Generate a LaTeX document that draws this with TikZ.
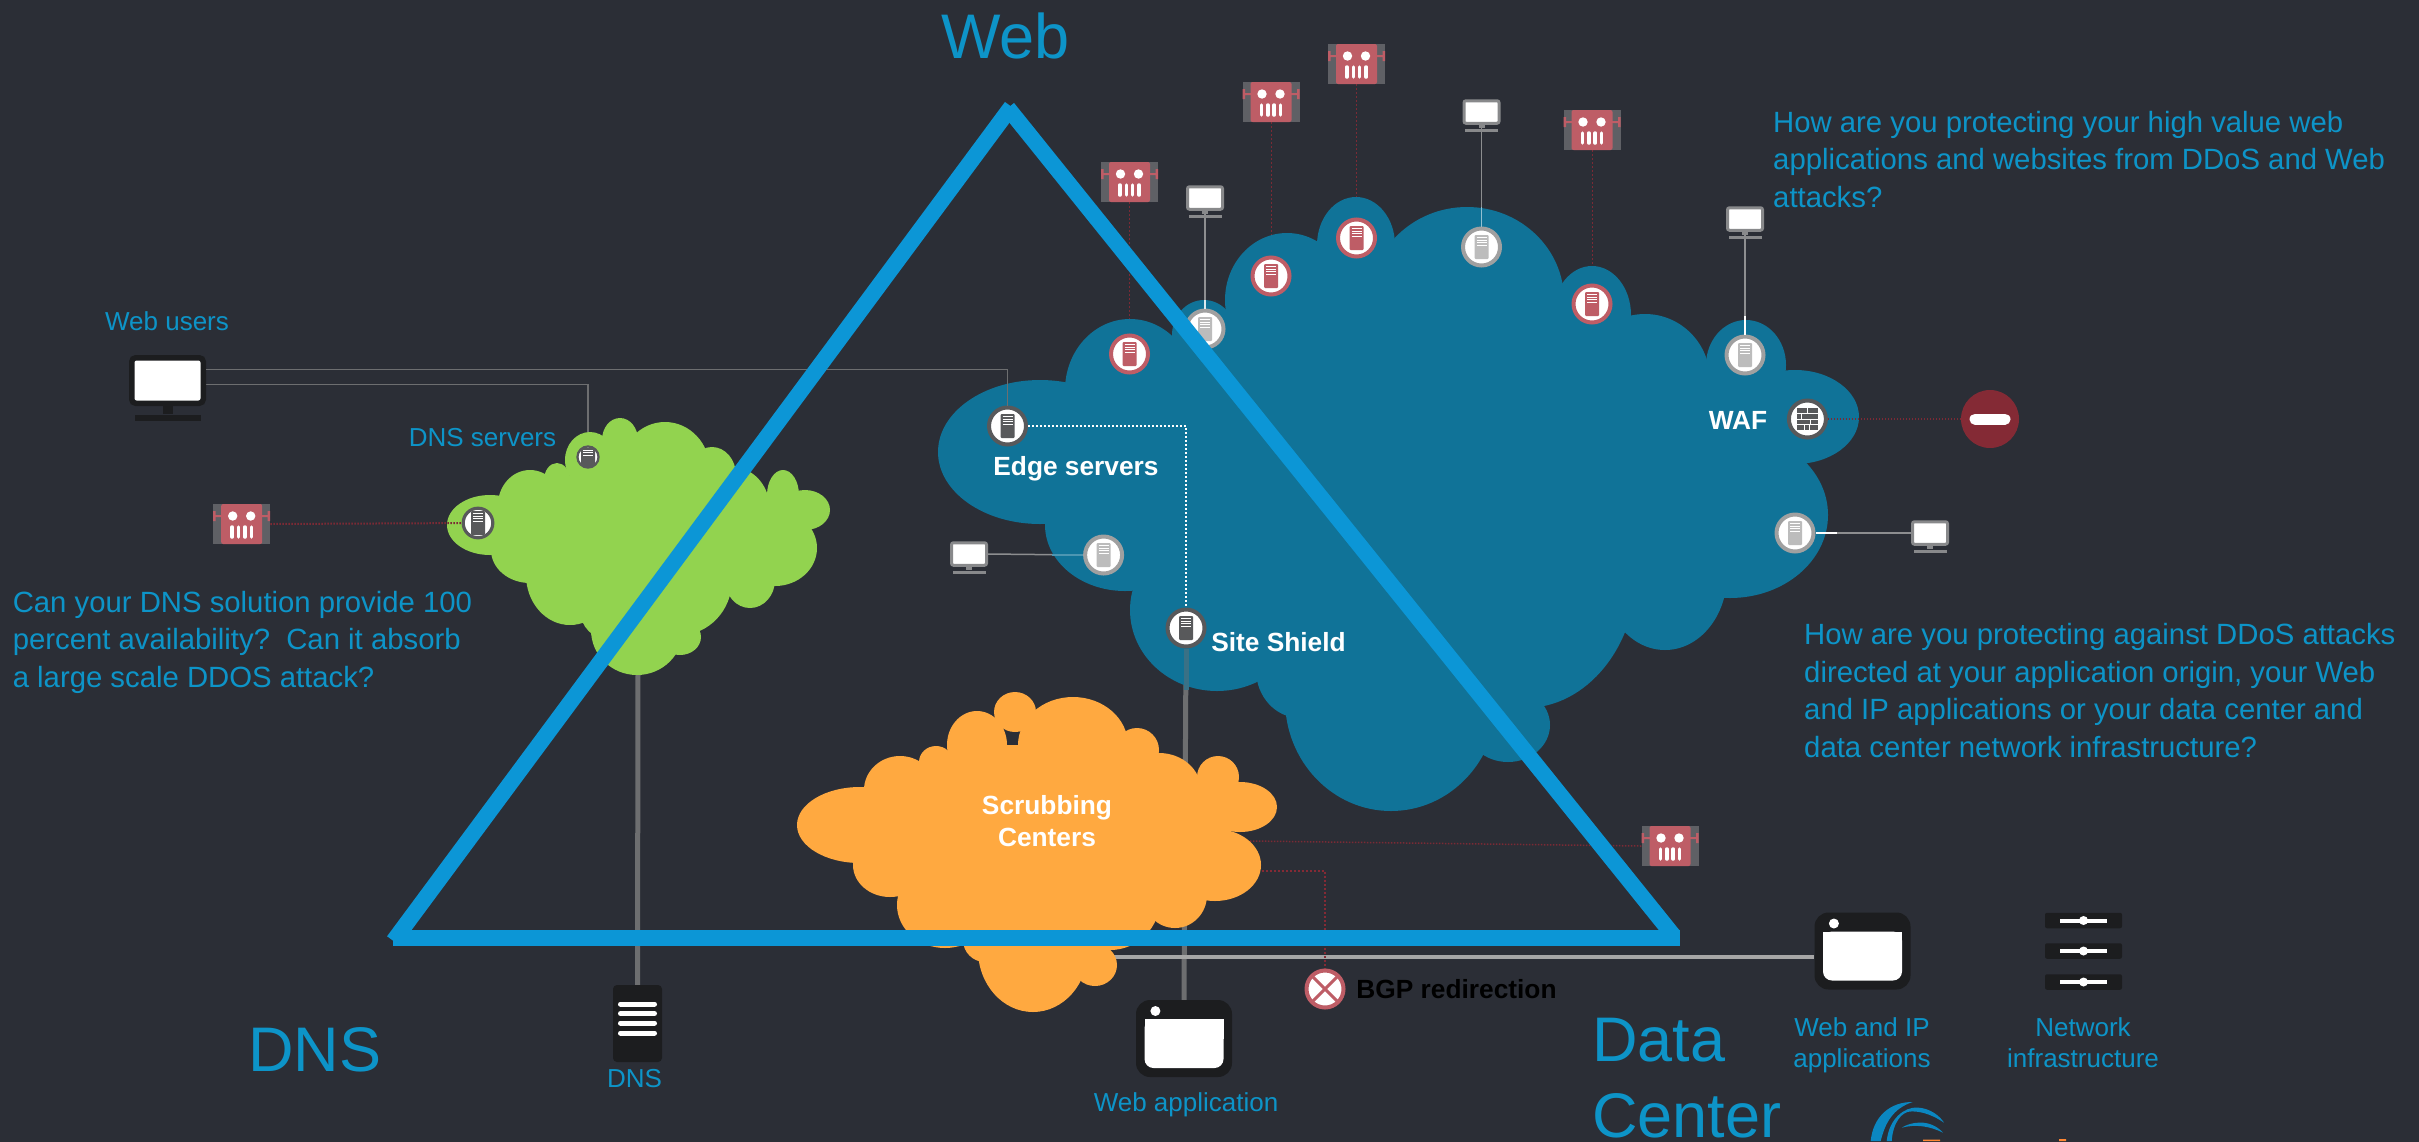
\documentclass[tikz,border=0pt]{standalone}
\usepackage{fontspec}
\setmainfont{Liberation Sans}
\usetikzlibrary{positioning}
\definecolor{backdark}{HTML}{2B2E36}
\definecolor{triblue}{HTML}{0C96D6}
\definecolor{labelblue}{HTML}{0D94C8}
\definecolor{cloudblue}{HTML}{107398}
\definecolor{cloudgreen}{HTML}{92D34F}
\definecolor{cloudorange}{HTML}{FFA940}
\definecolor{iconblack}{HTML}{1C1D1F}
\definecolor{botred}{HTML}{BE5D66}
\definecolor{botgrey}{HTML}{5F6065}
\definecolor{stopred}{HTML}{842A35}
\definecolor{ringdark}{HTML}{58595B}
\definecolor{ringgrey}{HTML}{A0A0A0}
\definecolor{rackgrey}{HTML}{BCBCBC}
\definecolor{wiregrey}{HTML}{6D6E70}
\definecolor{wirepale}{HTML}{8D8E90}
\definecolor{wirered}{HTML}{7B2A35}
\definecolor{framegrey}{HTML}{88898B}
\pgfdeclarelayer{backdrop}
\pgfdeclarelayer{links}
\pgfdeclarelayer{clouds}
\pgfdeclarelayer{front}
\pgfsetlayers{backdrop,links,clouds,main,front}
\begin{document}
\begin{tikzpicture}[x=1pt,y=-1pt]
    \tikzset{server/.style n args={3}{shape=circle,draw=#1,fill=white,line width=#3*4pt,minimum size=#3*37pt,inner sep=0pt,
        path picture={\begin{scope}[shift={(path picture bounding box.center)},scale=#3]
            \fill[#2,rounded corners=1pt] (-7pt,-12pt) rectangle (7pt,12pt);
            \foreach \s in {9.5,7,4.5,2} \draw[white,line width=#3*1pt] (-5pt,\s pt) -- (5pt,\s pt);
        \end{scope}}}}
    \tikzset{redserver/.style={server={botred}{botred}{1}}}
    \tikzset{greyserver/.style={server={ringgrey}{rackgrey}{1}}}
    \tikzset{darkserver/.style={server={ringdark}{ringdark}{1}}}
    \tikzset{wallbadge/.style={shape=circle,draw=ringdark,fill=white,line width=4pt,minimum size=37pt,inner sep=0pt,
        path picture={\begin{scope}[shift={(path picture bounding box.center)}]
            \fill[ringdark] (-10.5pt,-11pt) rectangle (10.5pt,11pt);
            \foreach \s in {5.5,0,-5.5} \draw[white,line width=1pt] (-10.5pt,\s pt) -- (10.5pt,\s pt);
            \foreach \a/\b in {0/5.5,-6/0,3/-5.5,-3/-11,2/-11} \draw[white,line width=1pt] (\a pt,\b pt) -- (\a pt,\b pt+5.5pt);
        \end{scope}}}}
    \tikzset{robot/.style={shape=rectangle,fill=botgrey,minimum width=57pt,minimum height=40pt,inner sep=0pt,
        path picture={\begin{scope}[shift={(path picture bounding box.center)}]
            \fill[botred,rounded corners=2pt] (-20.5pt,-20pt) rectangle (20.5pt,20pt);
            \fill[botred] (-28.5pt,3pt) rectangle (-26pt,13pt) (-26pt,7pt) rectangle (-20pt,9pt);
            \fill[botred] (28.5pt,3pt) rectangle (26pt,13pt) (26pt,7pt) rectangle (20pt,9pt);
            \fill[white] (-9pt,8pt) circle (4.7pt) (9pt,8pt) circle (4.7pt);
            \foreach \s in {-9.6,-3.2,3.2,9.6} \draw[white,line width=3.5pt,line cap=round] (\s pt,-3pt) -- (\s pt,-13pt);
        \end{scope}}}}
    \tikzset{monitor/.style={shape=rectangle,rounded corners=2pt,draw=framegrey,fill=white,line width=3pt,minimum width=35pt,minimum height=22.5pt,inner sep=0pt}}
    \tikzset{stem/.style={shape=rectangle,fill=framegrey,minimum width=6pt,minimum height=3.5pt,inner sep=0pt}}
    \tikzset{foot/.style={shape=rectangle,fill=framegrey,minimum width=33pt,minimum height=3.5pt,inner sep=0pt}}
    \tikzset{appwindow/.style={shape=rectangle,rounded corners=14pt,fill=iconblack,minimum width=96pt,minimum height=77pt,inner sep=0pt,
        path picture={\begin{scope}[shift={(path picture bounding box.center)}]
            \fill[white] (-28.6pt,27.5pt) circle (5pt);
            \fill[white,rounded corners=9pt] (-39.5pt,19.5pt) rectangle (39.5pt,-29.5pt);
            \fill[white,sharp corners] (-39.5pt,19.5pt) rectangle (39.5pt,0pt);
        \end{scope}}}}
    \tikzset{dnsbox/.style={shape=rectangle,rounded corners=4pt,fill=iconblack,minimum width=49pt,minimum height=77pt,inner sep=0pt,
        path picture={\begin{scope}[shift={(path picture bounding box.center)}]
            \foreach \s in {19.5,10,0.5,-9.5} \draw[white,line width=5pt,line cap=round] (-17pt,\s pt) -- (17pt,\s pt);
        \end{scope}}}}
    \tikzset{slider/.style={shape=rectangle,rounded corners=2pt,fill=iconblack,minimum width=77pt,minimum height=15.5pt,inner sep=0pt,
        path picture={\begin{scope}[shift={(path picture bounding box.center)}]
            \draw[white,line width=4pt] (-23.5pt,0pt) -- (23.5pt,0pt);
            \fill[white] (0pt,0pt) circle (4.5pt);
        \end{scope}}}}
    \tikzset{stopsign/.style={shape=circle,fill=stopred,minimum size=58pt,inner sep=0pt,
        path picture={\begin{scope}[shift={(path picture bounding box.center)}]
            \draw[white,line width=11pt,line cap=round] (-15pt,0pt) -- (15pt,0pt);
        \end{scope}}}}
    \tikzset{crossed/.style={shape=circle,draw=botred,fill=white,line width=4pt,minimum size=37pt,inner sep=0pt,
        path picture={\begin{scope}[shift={(path picture bounding box.center)}]
            \draw[botred,line width=3pt] (-15pt,-15pt) -- (15pt,15pt) (-15pt,15pt) -- (15pt,-15pt);
        \end{scope}}}}
    \tikzset{bigtext/.style={text=labelblue,font=\fontsize{63}{76}\selectfont,align=left,anchor=base west,inner sep=0pt}}
    \tikzset{asktext/.style={text=labelblue,font=\fontsize{29.3}{37.5}\selectfont,align=left,anchor=base west,inner sep=0pt}}
    \tikzset{smalltext/.style={text=labelblue,font=\fontsize{26}{31}\selectfont,align=center,anchor=base,inner sep=0pt}}
    \tikzset{boldtext/.style={text=white,font=\fontsize{26.3}{32}\selectfont\bfseries,align=center,anchor=base,inner sep=0pt}}
    \tikzset{wire/.style={draw=wiregrey,line width=1.5pt}}
    \tikzset{trunk/.style={draw=wiregrey,line width=5pt}}
    \tikzset{userwire/.style={draw=wirepale,line width=1.5pt}}
    \tikzset{botwire/.style={draw=wirered,line width=1pt,dash pattern=on 2pt off 2pt}}
    \tikzset{attackwire/.style={draw=wirered,line width=2pt,dash pattern=on 1.5pt off 1.5pt}}
    \tikzset{triside/.style={draw=triblue,line width=16pt}}

    \useasboundingbox (0,0) rectangle (2419,1141);
    \begin{pgfonlayer}{backdrop}
        \fill[backdark] (-5,-5) rectangle (2424,1146);
    \end{pgfonlayer}

    \begin{pgfonlayer}{clouds}
        \foreach \x/\y/\a/\b in {1040/452/102/72,1130/390/65/71,1204/335/32/35,1287/300/62/67,1356/245/39/48,
                1467/300/97/93,1592/315/39/49,1645/380/65/66,1746/365/40/45,1795/417/64/47,1730/515/98/83,
                1665/575/62/75,1525/570/112/138,1508/725/42/37,1391/700/106/111,1300/670/44/48,
                1217/610/87/81,1125/525/80/66}
            \fill[cloudblue] (\x,\y) ellipse [x radius=\a pt,y radius=\b pt];
        \fill[cloudblue] (1040,452) -- (1130,390) -- (1287,300) -- (1356,245) -- (1467,300) -- (1592,315) -- (1645,380)
            -- (1746,365) -- (1795,417) -- (1730,515) -- (1665,575) -- (1525,570) -- (1391,700) -- (1217,610) -- (1125,525) -- cycle;
        \foreach \x/\y/\a/\b in {490/525/43/30,590/460/25/28,620/440/18/22,665/470/45/48,712/475/24/28,
                735/510/35/42,783/495/16/25,805/510/25/20,775/548/42/38,750/580/25/28,680/580/52/55,
                680/637/21/18,637/630/46/45,610/610/30/30,570/575/44/50,530/550/39/33,530/505/32/35,557/480/13/17}
            \fill[cloudgreen] (\x,\y) ellipse [x radius=\a pt,y radius=\b pt];
        \fill[cloudgreen] (490,525) -- (530,505) -- (590,460) -- (620,440) -- (665,470) -- (735,510) -- (805,510) -- (775,548)
            -- (750,580) -- (680,580) -- (637,630) -- (570,575) -- (530,550) -- cycle;
        \foreach \x/\y/\a/\b in {860/825/63/38,900/790/36/34,936/762/17/16,977/745/30/34,1015/712/21/20,
                1073/745/55/48,1137/750/22/22,1159/790/42/37,1218/777/21/21,1240/807/37/25,1215/865/46/36,
                1175/895/32/33,1110/900/50/50,1095/965/22/21,1033/950/55/62,985/940/22/22,945/905/48/43,890/865/37/32}
            \fill[cloudorange] (\x,\y) ellipse [x radius=\a pt,y radius=\b pt];
        \fill[cloudorange] (860,825) -- (900,790) -- (977,745) -- (1073,745) -- (1137,750) -- (1159,790) -- (1218,777) -- (1240,807) -- (1215,865)
            -- (1175,895) -- (1110,900) -- (1033,950) -- (945,905) -- (890,865) -- cycle;
    \end{pgfonlayer}

    \foreach \n/\x/\y in {redone/1129.5/354,redtwo/1271/276,redthree/1356.5/238,redfour/1592/304}
        \node[redserver] (\n) at (\x,\y) {};
    \foreach \n/\x/\y in {greyone/1205/329,greytwo/1481.5/247,greythree/1745/355,greyfour/1795/533,greyfive/1103.6/555}
        \node[greyserver] (\n) at (\x,\y) {};
    \node[darkserver] (edge) at (1007.5,426) {};
    \node[darkserver] (site) at (1186,628) {};
    \node[server={ringdark}{ringdark}{.57}] (dnstop) at (588,457) {};
    \node[server={ringdark}{ringdark}{.8}] (dnsleft) at (478,523) {};
    \node[wallbadge] (waf) at (1807.4,419) {};
    \node[stopsign] (stop) at (1990,419) {};
    \node[crossed] (bgp) at (1325,989) {};

    \foreach \n/\x/\y in {botdns/241.7/524,botone/1129.5/182,bottwo/1271/102,botthree/1356.5/64,botfour/1592/130,botlow/1670/846}
        \node[robot] (\n) at (\x,\y) {};

    \foreach \n/\x/\y in {monone/1205/198,montwo/1481.5/112,monthree/1745/219,monleft/969/554,monright/1930/533}{
        \node[monitor] (\n) at (\x,\y) {};
        \node[stem] (\n stem) [below=0pt of \n] {};
        \node[foot] (\n foot) [below=0pt of \n stem] {};
    }
    \node[monitor,draw=iconblack,line width=5.5pt,minimum width=71.5pt,minimum height=45.5pt,rounded corners=4pt] (users) at (167.5,380.5) {};
    \node[stem,fill=iconblack,minimum width=10pt,minimum height=8pt] (usersstem) [below=0pt of users] {};
    \node[foot,fill=iconblack,minimum width=66pt,minimum height=6pt] (usersfoot) [below=0pt of usersstem] {};

    \node[appwindow] (webapp) at (1184,1038.5) {};
    \node[appwindow] (ipapp) at (1862.5,951) {};
    \node[dnsbox] (dns) at (637.5,1023.5) {};
    \node[slider] (sliderone) at (2083.5,920.5) {};
    \node[slider] (slidertwo) at (2083.5,951) {};
    \node[slider] (sliderthree) at (2083.5,982) {};

    \coordinate (greenfoot) at (638,670);
    \coordinate (orangeright) at (1113,957);
    \coordinate (orangebot) at (1250,841);
    \coordinate (orangebgp) at (1250,871);
    \coordinate (blueone) at (1205,300);
    \coordinate (bluetwo) at (1481.5,207);
    \coordinate (bluethree) at (1745,316);
    \coordinate (blueright) at (1837,533);
    \coordinate (blueleft) at (1052,555);
    \coordinate (bluefoot) at (1186,690);

    \begin{pgfonlayer}{links}
        \foreach \a/\b in {botone/redone,bottwo/redtwo,botthree/redthree,botfour/redfour}
            \draw[botwire] (\a) -- (\b);
        \foreach \a/\b in {monone/greyone,montwo/greytwo,monthree/greythree,monright/greyfour}
            \draw[userwire] (\a) -- (\b);
        \draw[userwire] (monleft.east) -- (greyfive.west);
        \draw[wire] ([yshift=-4pt]users.east) -| (dnstop.north);
        \draw[trunk] (greenfoot) -- (dns.north);
        \draw[trunk] (site.south) -- (webapp.north);
        \draw[draw=black!35,line width=4pt] (orangeright) -- (ipapp.west |- orangeright);
        \draw[attackwire,line width=1.5pt] (botlow.west) -- (orangebot);
        \draw[botwire,line width=1.5pt,draw=stopred] (orangebgp) -| (bgp.north);
    \end{pgfonlayer}

    \draw[wire] ([yshift=11pt]users.east) -| (edge.north);
    \draw[draw=white,line width=2pt,dash pattern=on 2pt off 2pt] (edge.east) -| (site.north);
    \draw[attackwire] (botdns.east) -- (dnsleft);
    \draw[attackwire] (waf.east) -- (stop.west);
    \draw[draw=white!85!cloudblue,line width=1.5pt] (blueone) -- (greyone.north);
    \draw[draw=white!55!cloudblue,line width=1.5pt] (bluetwo) -- (greytwo.north);
    \draw[draw=white,line width=1.5pt] (bluethree) -- (greythree.north);
    \draw[draw=white,line width=1.5pt] (blueright) -- (greyfour.east);
    \draw[draw=white!25!cloudblue,line width=1.5pt] (blueleft) -- (greyfive.west);
    \draw[draw=wiregrey!45!cloudblue,line width=5pt] (site.south) -- (bluefoot);

    \node[bigtext] (webtitle) at (941,58) {Web};
    \node[bigtext] (dnstitle) at (248,1071) {DNS};
    \node[bigtext] (datatitle) at (1592,1137) {Data\\Center};
    \node[smalltext] (userslabel) at (167,330) {Web users};
    \node[smalltext] (dnstoplabel) at (482.5,446) {DNS servers};
    \node[smalltext] (dnslabel) at (634.5,1087) {DNS};
    \node[smalltext] (webapplabel) at (1186,1111) {Web application};
    \node[smalltext] (ipapplabel) at (1862,1067) {Web and IP\\applications};
    \node[smalltext] (netlabel) at (2083,1067) {Network\\infrastructure};
    \node[asktext] (askdns) at (12.6,687) {Can your DNS solution provide 100\\percent availability?\ \ Can it absorb\\a large scale DDOS attack?};
    \node[asktext] (askweb) at (1773,207) {How are you protecting your high value web\\applications and websites from DDoS and Web\\attacks?};
    \node[asktext] (askdata) at (1804,757) {How are you protecting against DDoS attacks\\directed at your application origin, your Web\\and IP applications or your data center and\\data center network infrastructure?};
    \node[boldtext] (edgelabel) at (1076,475) {Edge servers};
    \node[boldtext] (sitelabel) at (1278.5,651) {Site Shield};
    \node[boldtext] (waflabel) at (1738,429) {WAF};
    \node[boldtext] (scrublabel) at (1047,846) {Scrubbing\\Centers};
    \node[boldtext,text=black] (bgplabel) at (1456.5,998) {BGP redirection};

    \begin{pgfonlayer}{front}
        \draw[triside] (393.5,941) -- (1011.4,106.7);
        \draw[triside] (1007.8,108) -- (1673,935);
        \draw[triside] (393,937.5) -- (1680,937.5);
        \fill[triblue!90!black] (1870.7,1141) .. controls (1873,1116.7) and (1890,1101.7) .. (1912.7,1102)
            .. controls (1893,1108.3) and (1885,1123) .. (1880.7,1141) -- cycle;
        \fill[triblue!90!black] (1886.7,1141) .. controls (1889,1118) and (1905,1107) .. (1917,1107.5)
            .. controls (1930,1108) and (1940,1116) .. (1944,1122.7)
            .. controls (1930,1113) and (1918,1111) .. (1910,1111.5)
            .. controls (1902,1112) and (1893,1122) .. (1891.7,1141) -- cycle;
        \fill[triblue!90!black] (1901.7,1127.7) .. controls (1910,1122) and (1930,1118) .. (1943,1132.7)
            .. controls (1930,1126) and (1915,1124) .. cycle;
        \fill[cloudorange!80!red] (1923,1139.5) rectangle (1940,1141) (2059,1139) rectangle (2066,1141);
    \end{pgfonlayer}
\end{tikzpicture}
\end{document}
